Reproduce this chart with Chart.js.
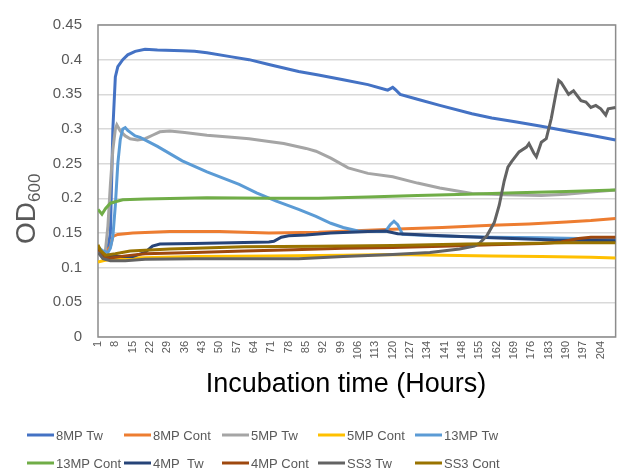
<!DOCTYPE html>
<html>
<head>
<meta charset="utf-8">
<script src="https://cdn.jsdelivr.net/npm/chart.js@4.4.1/dist/chart.umd.min.js"></script>
<style>
  body { margin: 0; background: #fff; }
  #wrap { width: 618px; height: 472px; }
</style>
</head>
<body>
<div id="wrap"><canvas id="odChart" width="618" height="472"></canvas></div>
<script>
// ---------------- data: [hour, OD600] ----------------
const xTickLabels = [1, 8, 15, 22, 29, 36, 43, 50, 57, 64, 71, 78, 85, 92, 99, 106, 113, 120, 127, 134, 141, 148, 155, 162, 169, 176, 183, 190, 197, 204];
const yTickLabels = [0, 0.05, 0.1, 0.15, 0.2, 0.25, 0.3, 0.35, 0.4, 0.45];
const seriesNames = ["8MP Tw", "8MP Cont", "5MP Tw", "5MP Cont", "13MP Tw", "13MP Cont", "4MP  Tw", "4MP Cont", "SS3 Tw", "SS3 Cont"];
const seriesColors = ["#4472C4", "#ED7D31", "#A5A5A5", "#FFC000", "#5B9BD5", "#70AD47", "#264478", "#9E480E", "#636363", "#997300"];

const mp8Tw = [[1, 0.125], [3, 0.12], [5, 0.128], [6, 0.15], [7, 0.3], [8, 0.375], [9, 0.39], [11, 0.4], [13, 0.407], [16, 0.412], [20, 0.415], [25, 0.414], [35, 0.413], [40, 0.412], [45, 0.41], [55, 0.404], [62, 0.4], [70, 0.393], [76, 0.388], [82, 0.383], [90, 0.378], [100, 0.371], [110, 0.364], [117, 0.357], [118, 0.356], [120, 0.36], [121, 0.357], [123, 0.35], [130, 0.343], [139, 0.334], [152, 0.322], [160, 0.316], [170, 0.31], [180, 0.304], [192, 0.296], [200, 0.291], [210, 0.284]];
const mp8Cont = [[1, 0.125], [4, 0.122], [6, 0.13], [7, 0.145], [9, 0.148], [15, 0.15], [30, 0.152], [50, 0.152], [70, 0.15], [90, 0.151], [110, 0.154], [125, 0.156], [140, 0.158], [160, 0.161], [175, 0.163], [190, 0.166], [200, 0.168], [210, 0.171]];
const mp5Tw = [[1, 0.12], [3, 0.118], [4, 0.125], [5, 0.16], [6, 0.22], [7, 0.27], [8, 0.3], [8.6, 0.306], [10, 0.297], [12, 0.29], [14, 0.286], [17, 0.284], [20, 0.286], [23, 0.291], [26, 0.296], [30, 0.297], [36, 0.295], [45, 0.291], [55, 0.288], [62, 0.286], [70, 0.282], [76, 0.279], [85, 0.272], [89, 0.268], [95, 0.258], [102, 0.244], [110, 0.236], [120, 0.231], [130, 0.222], [139, 0.215], [152, 0.207], [165, 0.205], [180, 0.204], [190, 0.206], [200, 0.209], [210, 0.212]];
const mp5Cont = [[1, 0.108], [3, 0.11], [6, 0.112], [15, 0.114], [40, 0.116], [70, 0.117], [100, 0.118], [120, 0.119], [140, 0.118], [160, 0.117], [180, 0.116], [200, 0.115], [210, 0.114]];
const mp13Tw = [[1, 0.13], [3, 0.124], [5, 0.122], [6, 0.128], [7, 0.145], [8, 0.19], [9, 0.25], [10, 0.285], [11, 0.3], [12, 0.302], [13, 0.298], [16, 0.29], [18, 0.288], [25, 0.275], [35, 0.254], [45, 0.238], [58, 0.22], [65, 0.208], [73, 0.196], [82, 0.184], [89, 0.174], [95, 0.164], [100, 0.158], [106, 0.153], [112, 0.152], [117, 0.152], [119, 0.162], [120.5, 0.167], [122, 0.162], [124, 0.148], [136, 0.146], [160, 0.144], [180, 0.143], [210, 0.141]];
const mp13Cont = [[1, 0.184], [2.6, 0.177], [4, 0.185], [6, 0.193], [8, 0.195], [11, 0.198], [20, 0.199], [45, 0.201], [70, 0.2], [90, 0.2], [110, 0.202], [130, 0.204], [150, 0.206], [170, 0.208], [190, 0.21], [210, 0.212]];
const mp4Tw = [[1, 0.128], [3, 0.118], [8, 0.116], [15, 0.116], [20, 0.122], [23, 0.131], [26, 0.134], [40, 0.135], [55, 0.136], [70, 0.137], [72, 0.138], [75, 0.144], [78, 0.146], [85, 0.147], [95, 0.15], [110, 0.152], [117, 0.153], [122, 0.149], [140, 0.146], [160, 0.143], [185, 0.14], [210, 0.139]];
const mp4Cont = [[1, 0.13], [3, 0.115], [6, 0.114], [12, 0.117], [20, 0.12], [40, 0.122], [60, 0.124], [80, 0.126], [100, 0.128], [120, 0.129], [140, 0.131], [160, 0.133], [180, 0.135], [188, 0.137], [195, 0.142], [200, 0.144], [210, 0.144]];
const ss3Tw = [[1, 0.122], [3, 0.113], [6, 0.11], [12, 0.11], [20, 0.112], [40, 0.113], [60, 0.113], [82, 0.113], [100, 0.116], [120, 0.119], [135, 0.122], [147, 0.127], [153, 0.131], [155, 0.135], [158, 0.146], [161, 0.165], [163, 0.19], [165, 0.225], [166.5, 0.245], [168, 0.253], [171, 0.267], [174, 0.274], [175, 0.279], [177, 0.265], [178, 0.26], [180, 0.281], [182, 0.286], [184, 0.315], [186, 0.353], [187, 0.37], [188, 0.367], [191, 0.35], [193, 0.355], [196, 0.341], [198, 0.339], [200, 0.331], [202, 0.334], [204, 0.329], [206, 0.32], [207, 0.329], [210, 0.331]];
const ss3Cont = [[1, 0.133], [2, 0.125], [4, 0.118], [8, 0.12], [14, 0.124], [30, 0.127], [60, 0.13], [90, 0.131], [120, 0.132], [150, 0.134], [170, 0.135], [190, 0.136], [210, 0.136]];

const allSeries = [mp8Tw, mp8Cont, mp5Tw, mp5Cont, mp13Tw, mp13Cont, mp4Tw, mp4Cont, ss3Tw, ss3Cont];

const xTitle = "Incubation time (Hours)";
const FONT = "'Liberation Sans', Arial, sans-serif";

// ---------------- box round the plot, axis titles and the legend grid ----------------
const plotBox = {
  id: "plotBox",
  beforeDatasetsDraw(chart) {
    const { ctx, chartArea: a } = chart;
    ctx.save();
    ctx.strokeStyle = "#8c8c8c";
    ctx.lineWidth = 1.5;
    ctx.strokeRect(a.left, a.top, a.right - a.left, a.bottom - a.top);
    ctx.restore();
  },
  afterDraw(chart) {
    const ctx = chart.ctx;
    ctx.save();
    // x title
    ctx.fillStyle = "#000";
    ctx.font = "27px " + FONT;
    ctx.textAlign = "center";
    ctx.textBaseline = "middle";
    ctx.fillText(xTitle, 346, 385);

    // y title with subscript
    ctx.save();
    ctx.translate(35, 244);
    ctx.rotate(-Math.PI / 2);
    ctx.fillStyle = "#595959";
    ctx.textAlign = "left";
    ctx.textBaseline = "alphabetic";
    ctx.font = "28px " + FONT;
    ctx.fillText("OD", 0, 0);
    const w = ctx.measureText("OD").width;
    ctx.font = "17px " + FONT;
    ctx.fillText("600", w, 5);
    ctx.restore();

    // legend: 2 rows x 5 columns
    const cols = [27, 124, 222, 318, 415];
    const rows = [435, 463];
    ctx.font = "13px " + FONT;
    ctx.textAlign = "left";
    ctx.textBaseline = "middle";
    seriesNames.forEach((name, i) => {
      const x = cols[i % 5];
      const y = rows[Math.floor(i / 5)];
      ctx.strokeStyle = seriesColors[i];
      ctx.lineWidth = 3;
      ctx.beginPath();
      ctx.moveTo(x, y);
      ctx.lineTo(x + 27, y);
      ctx.stroke();
      ctx.fillStyle = "#595959";
      ctx.fillText(name, x + 29, y + 1);
    });
    ctx.restore();
  },
};

// ---------------- chart ----------------
const ctx = document.querySelector("#odChart").getContext("2d");
const chart = new Chart(ctx, {
  type: "line",
  data: {
    datasets: allSeries.map((pts, i) => ({
      label: seriesNames[i],
      data: pts.map(([x, y]) => ({ x: x, y: y })),
      borderColor: seriesColors[i],
      backgroundColor: seriesColors[i],
      borderWidth: 3,
      pointRadius: 0,
      tension: 0,
      order: allSeries.length - i, // later series on top, like the original
    })),
  },
  options: {
    responsive: false,
    animation: false,
    layout: { padding: { left: 0, right: 1, top: 21, bottom: 65 } },
    plugins: {
      legend: { display: false },
      tooltip: { enabled: false },
    },
    scales: {
      x: {
        type: "linear",
        min: 1,
        max: 210,
        afterBuildTicks: (scale) => {
          scale.ticks = xTickLabels.map((v) => ({ value: v }));
        },
        afterFit: (scale) => {
          scale.height = 70;
        },
        grid: { display: false, drawTicks: false },
        border: { display: false },
        ticks: {
          autoSkip: false,
          minRotation: 90,
          maxRotation: 90,
          padding: 4,
          color: "#595959",
          font: { family: FONT, size: 11 },
          callback: (v) => String(v),
        },
      },
      y: {
        min: 0,
        max: 0.45,
        afterBuildTicks: (scale) => {
          scale.ticks = yTickLabels.map((v) => ({ value: v }));
        },
        afterFit: (scale) => {
          scale.width = 98;
        },
        grid: { color: "#d9d9d9", lineWidth: 1.5, drawTicks: false },
        border: { display: false },
        ticks: {
          padding: 16,
          color: "#595959",
          font: { family: FONT, size: 15 },
          callback: (v) => String(Math.round(v * 100) / 100),
        },
      },
    },
  },
  plugins: [plotBox],
});
</script>
</body>
</html>
